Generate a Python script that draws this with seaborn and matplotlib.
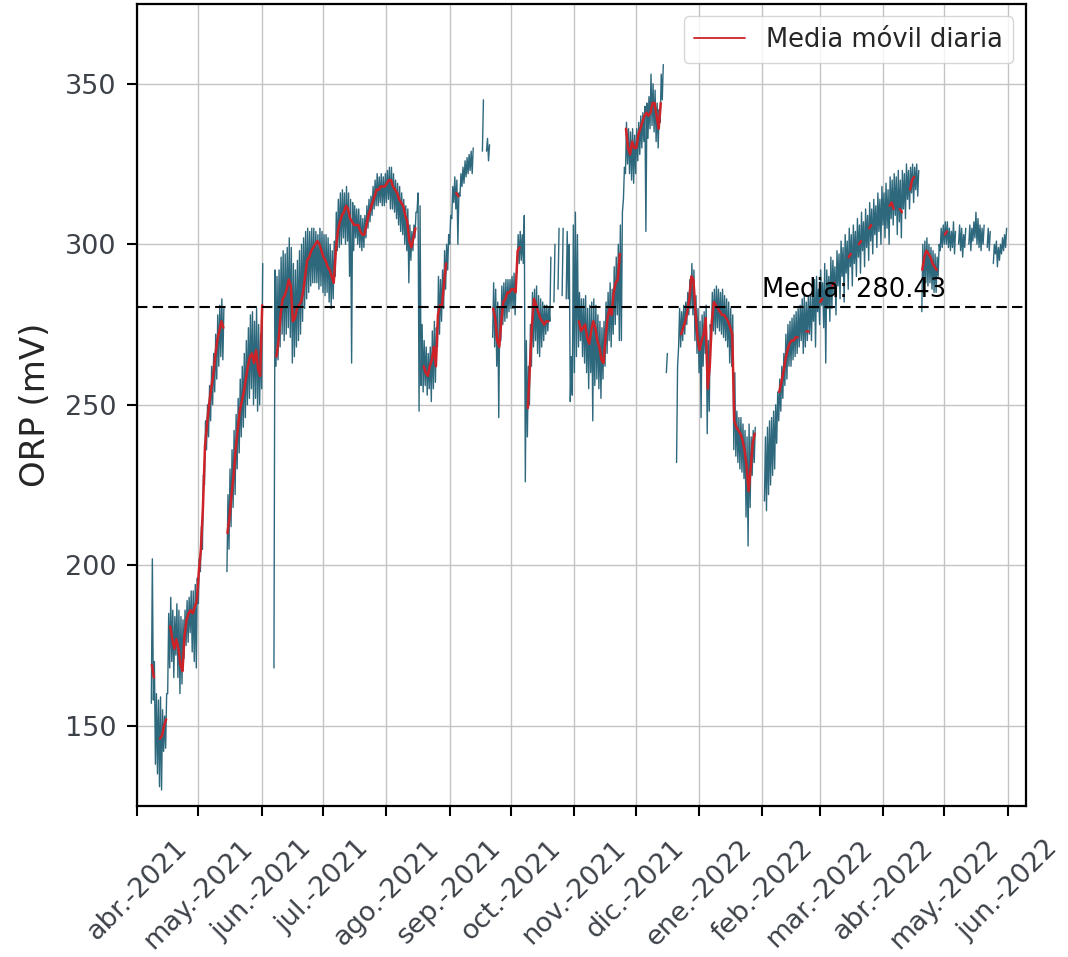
import numpy as np
import pandas as pd
import matplotlib
matplotlib.use('Agg')
import matplotlib.pyplot as plt
from matplotlib.lines import Line2D
import seaborn as sns

nan = np.nan

# Datos diarios desde el 1 de abril de 2021 (minimo, maximo y media movil del ORP, mV)
inicio = '2021-04-01'

orp_min = [
    nan, nan, nan, nan, nan, nan, nan, 157, 158, 138,
    135, 131, 130, 142, 143, 160, 168, 170, 165, 172,
    165, 160, 163, 171, 175, 176, 179, 173, 170, 168,
    188, 198, 205, 225, 236, 240, 245, 250, 254, 258,
    262, 265, 264, nan, 198, 205, 212, 218, 222, 230,
    235, 240, 243, 246, 250, 252, 255, 250, 252, 248,
    250, 255, nan, nan, nan, nan, nan, 168, 262, 264,
    268, 272, 270, 272, 274, 271, 263, 265, 268, 270,
    272, 276, 280, 283, 285, 287, 288, 288, 288, 286,
    287, 285, 284, 285, 282, 280, 283, 290, 298, 299,
    300, 302, 300, 301, 290, 263, 298, 302, 300, 299,
    298, 299, 302, 305, 307, 309, 311, 312, 312, 313,
    312, 312, 313, 314, 311, 311, 310, 308, 306, 304,
    303, 300, 298, 288, 295, 298, 302, 310, 248, 256,
    254, 256, 253, 255, 251, 255, 257, 268, 272, 276,
    280, 286, 292, 300, 308, 313, 311, 300, 315, 318,
    319, 321, 322, 323, 322, nan, nan, nan, nan, 329,
    nan, 329, 326, nan, 271, 268, 262, 246, 270, 275,
    276, 277, 279, 280, 280, 278, 292, 294, 295, 294,
    226, 240, 250, 262, 268, 270, 266, 265, 268, 270,
    272, 273, 276, nan, 282, nan, 286, nan, 284, nan,
    283, 283, 251, 253, 260, 265, 268, 270, 265, 263,
    260, 255, 260, 245, 256, 258, 255, 252, 258, 262,
    266, 270, 268, 272, 275, 278, 270, 270, 314, 322,
    325, 322, 320, 319, 322, 326, 328, 330, 332, 304,
    333, 336, 337, 335, 332, 330, 338, 345, nan, 260,
    nan, nan, nan, nan, 232, 268, 268, 270, 272, 275,
    278, 280, 278, 270, 266, 260, 246, 262, 266, 241,
    248, 270, 273, 272, 274, 273, 272, 271, 270, 268,
    263, 262, 236, 234, 232, 230, 229, 227, 215, 206,
    218, 228, 232, nan, nan, nan, nan, 220, 217, 222,
    225, 228, 230, 238, 245, 248, 252, 256, 258, 262,
    262, 264, 265, 266, 268, 270, 266, 268, 270, 272,
    270, 276, 268, 279, 275, 281, 274, 263, 280, 276,
    280, 285, 278, 287, 283, 290, 282, 291, 286, 293,
    287, 294, 290, 296, 291, 298, 293, 299, 295, 301,
    297, 303, 299, 304, 300, 306, 302, 305, 300, 308,
    306, 309, 303, 307, 302, 311, 308, 314, 311, 316,
    313, 317, 315, nan, 279, 285, 288, 287, 288, 286,
    285, 285, 290, 298, 299, 300, 300, 299, 298, 299,
    297, nan, 300, 298, 296, 299, nan, 300, 298, 301,
    302, 300, 299, 298, 300, nan, 299, 298, nan, 294,
    297, 293, 295, 297, 298, 299, nan,
]

orp_max = [
    nan, nan, nan, nan, nan, nan, nan, 202, 170, 160,
    158, 159, 155, 153, 160, 185, 190, 186, 184, 188,
    186, 184, 183, 186, 189, 190, 192, 192, 194, 196,
    202, 212, 228, 245, 250, 256, 262, 266, 272, 278,
    281, 283, 280, nan, 222, 230, 236, 242, 247, 252,
    258, 262, 266, 270, 274, 278, 279, 276, 280, 275,
    272, 294, nan, nan, nan, nan, nan, 292, 290, 292,
    296, 298, 297, 299, 302, 299, 294, 292, 295, 298,
    300, 302, 304, 305, 304, 305, 305, 304, 303, 305,
    304, 303, 303, 302, 300, 298, 301, 310, 314, 316,
    317, 316, 318, 316, 314, 313, 312, 311, 311, 309,
    308, 309, 312, 314, 315, 318, 320, 322, 321, 322,
    321, 322, 323, 324, 324, 322, 320, 319, 318, 316,
    314, 312, 311, 306, 304, 306, 310, 316, 312, 275,
    270, 268, 266, 268, 273, 276, 274, 290, 289, 292,
    298, 300, 303, 309, 318, 321, 320, 316, 322, 324,
    326, 327, 328, 329, 330, nan, nan, nan, nan, 345,
    nan, 333, 331, nan, 288, 286, 282, 280, 287, 288,
    289, 289, 289, 290, 291, 290, 303, 304, 303, 309,
    270, 262, 275, 285, 286, 287, 284, 283, 282, 281,
    281, 280, 296, nan, 300, nan, 305, nan, 305, nan,
    304, 300, 265, 306, 310, 303, 285, 283, 283, 284,
    280, 281, 282, 283, 281, 278, 276, 274, 276, 282,
    285, 288, 286, 293, 296, 300, 306, 310, 324, 338,
    336, 335, 336, 334, 336, 338, 340, 341, 343, 344,
    346, 353, 350, 348, 344, 342, 353, 356, nan, 266,
    nan, nan, nan, nan, 262, 280, 279, 281, 282, 285,
    289, 294, 292, 284, 280, 276, 278, 279, 281, 270,
    275, 285, 286, 287, 286, 285, 286, 284, 283, 282,
    280, 278, 260, 248, 246, 246, 244, 242, 240, 244,
    240, 242, 243, nan, nan, nan, nan, 240, 243, 245,
    246, 248, 250, 254, 258, 262, 266, 272, 275, 276,
    277, 278, 279, 280, 281, 283, 284, 282, 284, 284,
    284, 289, 290, 286, 292, 288, 294, 292, 290, 296,
    295, 293, 298, 297, 301, 299, 303, 301, 305, 303,
    306, 304, 308, 306, 310, 307, 311, 309, 313, 311,
    314, 312, 316, 314, 318, 316, 319, 317, 321, 320,
    322, 321, 323, 320, 323, 322, 325, 323, 324, 325,
    324, 325, 323, nan, 300, 301, 302, 300, 299, 298,
    297, 296, 300, 305, 306, 307, 307, 305, 304, 307,
    304, nan, 306, 305, 303, 305, nan, 306, 305, 307,
    310, 308, 306, 305, 306, nan, 305, 304, nan, 300,
    301, 299, 300, 302, 303, 305, nan,
]

media_movil = [
    nan, nan, nan, nan, nan, nan, nan, 169, 165, nan,
    nan, 146, 147, 150, 152, nan, 181, 177, 174, 177,
    174, 169, 167, 178, 183, 185, 186, 185, 187, 189,
    198, 205, 218, 237, 244, 250, 255, 259, 265, 270,
    273, 276, 274, nan, 210, 215, 222, 228, 236, 242,
    248, 251, 254, 258, 262, 265, 266, 263, 267, 261,
    259, 281, nan, nan, nan, nan, nan, nan, 265, 270,
    278, 283, 284, 286, 289, 287, 276, 277, 280, 281,
    282, 285, 290, 295, 296, 298, 299, 300, 301, 300,
    298, 296, 295, 293, 292, 290, 288, 298, 304, 307,
    309, 310, 312, 311, 308, 307, 306, 306, 306, 304,
    303, 303, 306, 309, 311, 313, 315, 317, 317, 318,
    318, 318, 319, 320, 320, 318, 317, 316, 314, 313,
    312, 309, 307, 301, 299, 302, 305, nan, nan, nan,
    262, 260, 259, 262, 264, 268, 262, 278, 281, 281,
    288, 294, nan, nan, nan, nan, 316, 315, nan, nan,
    nan, nan, nan, nan, nan, nan, nan, nan, nan, nan,
    nan, nan, nan, nan, 280, 277, 270, 268, 276, 282,
    283, 285, 285, 286, 286, 285, 298, 299, nan, nan,
    nan, 249, 262, 275, 283, 281, 279, 277, 276, 275,
    276, 276, nan, nan, nan, nan, nan, nan, nan, nan,
    nan, nan, nan, nan, nan, nan, 276, 273, 274, 275,
    271, 269, 273, 276, 274, 270, 268, 264, 263, 271,
    277, 280, 278, 285, 288, 289, 297, nan, nan, 336,
    330, 328, 332, 330, 330, 334, 336, 338, 340, 341,
    340, 341, 344, 344, 340, 336, 344, nan, nan, nan,
    nan, nan, nan, nan, nan, nan, 272, 274, 276, 279,
    283, 290, 289, 279, 271, 267, 270, 272, 277, 255,
    262, 276, 282, 281, 280, 279, 278, 278, 277, 276,
    274, 272, 245, 243, 242, 241, 239, 236, 231, 223,
    230, 238, 241, nan, nan, nan, nan, nan, nan, nan,
    nan, nan, nan, nan, 254, 257, 260, 264, 267, 269,
    270, 270, 271, 271, nan, nan, nan, 273, 273, nan,
    nan, nan, nan, nan, 282, 283, nan, nan, nan, nan,
    287, 288, nan, nan, nan, nan, nan, nan, 296, 297,
    nan, nan, nan, 300, 301, nan, nan, nan, 305, 306,
    nan, nan, nan, nan, nan, nan, nan, nan, 312, 313,
    311, nan, nan, 311, 310, nan, nan, nan, 317, 320,
    321, nan, nan, nan, 292, 296, 298, 297, 296, 294,
    293, 292, nan, nan, nan, 303, 304, nan, nan, nan,
    nan, nan, nan, nan, nan, nan, nan, nan, nan, nan,
    nan, nan, nan, nan, nan, nan, nan, nan, nan, nan,
    nan, nan, nan, nan, nan, nan, nan,
]

media_global = 280.43

meses = ['2021-04-01', '2021-05-01', '2021-06-01', '2021-07-01', '2021-08-01',
         '2021-09-01', '2021-10-01', '2021-11-01', '2021-12-01', '2022-01-01',
         '2022-02-01', '2022-03-01', '2022-04-01', '2022-05-01', '2022-06-01']
etiquetas_meses = ['abr.-2021', 'may.-2021', 'jun.-2021', 'jul.-2021', 'ago.-2021',
                   'sep.-2021', 'oct.-2021', 'nov.-2021', 'dic.-2021', 'ene.-2022',
                   'feb.-2022', 'mar.-2022', 'abr.-2022', 'may.-2022', 'jun.-2022']

color_crudo = '#2e687d'
color_media = '#cd2328'

# Build the tables seaborn needs
dias = pd.date_range(inicio, periods=len(orp_min), freq='D')
crudo = pd.DataFrame({'fecha': dias, 'min': orp_min, 'max': orp_max})
crudo['tramo'] = crudo['min'].isna().cumsum()
bajo = crudo[['fecha', 'min', 'tramo']].rename(columns={'min': 'orp'})
alto = crudo[['fecha', 'max', 'tramo']].rename(columns={'max': 'orp'})
alto['fecha'] = alto['fecha'] + pd.Timedelta(hours=12)
serie = pd.concat([bajo, alto]).dropna().sort_values('fecha')

media = pd.DataFrame({'fecha': dias + pd.Timedelta(hours=6), 'orp': media_movil})
media['tramo'] = media['orp'].isna().cumsum()
media = media.dropna()

sns.set_style('ticks', {'axes.edgecolor': 'black', 'axes.linewidth': 1.6})

fig, ax = plt.subplots(figsize=(10.68, 9.57), dpi=100)
fig.subplots_adjust(left=0.1283, right=0.9607, top=0.9963, bottom=0.1578)

sns.lineplot(data=serie, x='fecha', y='orp', units='tramo', estimator=None,
             color=color_crudo, lw=1.0, legend=False, ax=ax)
sns.lineplot(data=media, x='fecha', y='orp', units='tramo', estimator=None,
             color=color_media, lw=1.8, legend=False, ax=ax)

ax.axhline(media_global, color='black', lw=1.5, ls=(0, (5, 2.5)), zorder=5)
ax.text(pd.Timestamp('2022-02-01'), media_global + 3, f'Media: {media_global:.2f}',
        fontsize=18.5, color='black')

ax.set_xlim(pd.Timestamp('2021-04-01'), pd.Timestamp('2022-06-10'))
ax.set_ylim(125, 375)
ax.set_xticks(pd.to_datetime(meses))
ax.set_xticklabels(etiquetas_meses, rotation=45, ha='center')
ax.set_yticks([150, 200, 250, 300, 350])

ax.grid(True, color='#c4c4c4', lw=1.0)
ax.set_axisbelow(True)
for lado in ['top', 'right', 'left', 'bottom']:
    ax.spines[lado].set_visible(True)
    ax.spines[lado].set_color('black')
    ax.spines[lado].set_linewidth(1.6)

ax.tick_params(axis='both', labelsize=19.5, labelcolor='#3d4249', length=7, width=1.5,
               color='black')
ax.tick_params(axis='y', pad=8)
ax.tick_params(axis='x', pad=14)
ax.set_xlabel('')
ax.set_ylabel('ORP (mV)', fontsize=24.5, labelpad=9)

ax.legend(handles=[Line2D([], [], color=color_media, lw=1.3)],
          labels=['Media móvil diaria'], loc='upper right', fontsize=18.5)

plt.savefig('out.png', dpi=100)
